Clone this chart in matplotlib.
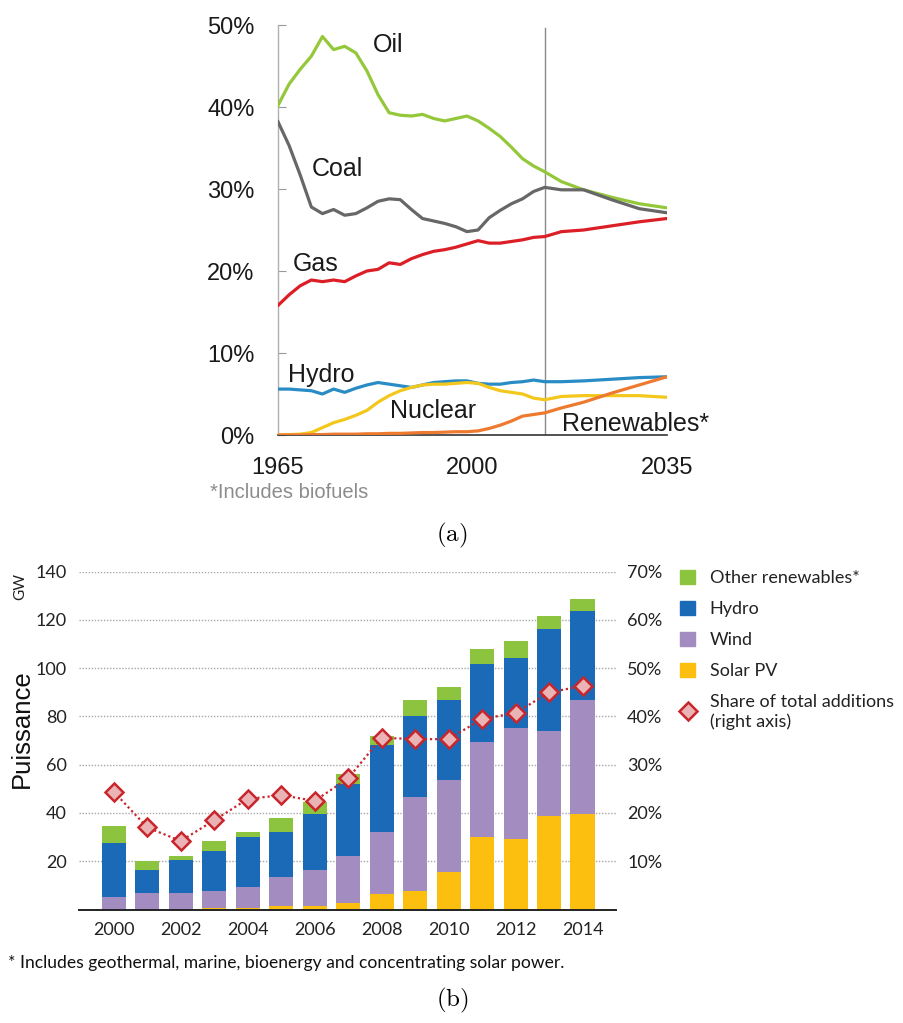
import matplotlib
matplotlib.use("Agg")
import matplotlib.pyplot as plt
import numpy as np
from matplotlib.patches import Patch
from matplotlib.lines import Line2D

plt.rcParams['font.family'] = ['Liberation Sans', 'DejaVu Sans']
plt.rcParams['mathtext.fontset'] = 'cm'

W, H = 904, 1023

# ---- (a) share of primary energy, %
YEARS = [1965, 1967, 1969, 1971, 1973, 1975, 1977, 1979, 1981, 1983, 1985, 1987,
         1989, 1991, 1993, 1995, 1997, 1999, 2001, 2003, 2005, 2007, 2009, 2011,
         2013, 2016, 2020, 2025, 2030, 2035]
OIL = [40.2, 42.8, 44.6, 46.2, 48.6, 47.0, 47.4, 46.6, 44.4, 41.5, 39.3, 39.0,
       38.9, 39.1, 38.6, 38.3, 38.6, 38.9, 38.3, 37.4, 36.4, 35.1, 33.7, 32.8,
       32.1, 30.9, 29.9, 29.0, 28.2, 27.7]
COAL = [38.2, 35.3, 31.7, 27.8, 27.0, 27.5, 26.8, 27.0, 27.7, 28.5, 28.8, 28.7,
        27.5, 26.4, 26.1, 25.8, 25.4, 24.8, 25.0, 26.5, 27.4, 28.2, 28.8, 29.7,
        30.2, 29.9, 29.9, 28.7, 27.6, 27.1]
GAS = [15.8, 17.1, 18.2, 18.9, 18.7, 18.9, 18.7, 19.4, 20.0, 20.2, 21.0, 20.8,
       21.5, 22.0, 22.4, 22.6, 22.9, 23.3, 23.7, 23.4, 23.4, 23.6, 23.8, 24.1,
       24.2, 24.8, 25.0, 25.5, 26.0, 26.4]
HYDRO_A = [5.6, 5.6, 5.5, 5.4, 5.0, 5.6, 5.2, 5.7, 6.1, 6.4, 6.2, 6.0,
           5.8, 6.1, 6.4, 6.5, 6.6, 6.6, 6.3, 6.2, 6.2, 6.4, 6.5, 6.7,
           6.5, 6.5, 6.6, 6.8, 7.0, 7.1]
NUCLEAR = [0.0, 0.05, 0.1, 0.3, 0.9, 1.5, 1.9, 2.4, 3.0, 4.0, 4.8, 5.4,
           5.8, 6.1, 6.2, 6.2, 6.3, 6.4, 6.3, 5.8, 5.4, 5.2, 5.0, 4.5,
           4.3, 4.7, 4.8, 4.8, 4.8, 4.6]
RENEWABLES = [0.0, 0.0, 0.0, 0.05, 0.05, 0.1, 0.1, 0.1, 0.15, 0.15, 0.2, 0.2,
              0.25, 0.3, 0.3, 0.35, 0.4, 0.4, 0.5, 0.8, 1.2, 1.7, 2.3, 2.5,
              2.7, 3.3, 4.0, 5.1, 6.1, 7.1]

# ---- (b) renewable capacity additions, GW
BAR_YEARS = list(range(2000, 2015))
SOLAR = [0.0, 0.0, 0.0, 0.5, 0.5, 1.6, 1.6, 2.6, 6.4, 7.8, 15.7, 30.2, 29.1, 38.7, 39.6]
WIND = [5.3, 7.0, 7.0, 7.3, 9.0, 11.7, 14.8, 19.6, 25.8, 38.9, 38.0, 39.3, 46.0, 35.4, 47.2]
HYDRO = [22.1, 9.4, 13.5, 16.4, 20.7, 18.9, 23.0, 29.8, 35.8, 33.6, 33.1, 32.2, 29.0, 42.1, 36.9]
OTHER = [7.3, 3.8, 1.7, 4.2, 2.0, 5.6, 5.0, 4.0, 3.9, 6.5, 5.5, 6.3, 7.2, 5.4, 5.0]
SHARE = [24.4, 17.0, 14.2, 18.5, 22.9, 23.7, 22.5, 27.2, 35.6, 35.3, 35.3, 39.5, 40.7, 45.0, 46.3]


def px_box(left, top, right, bottom):
    return [left / W, 1 - bottom / H, (right - left) / W, (bottom - top) / H]


fig = plt.figure(figsize=(W / 100, H / 100), dpi=100, facecolor='white')

# ===================== (a) =====================
ax1 = fig.add_axes(px_box(278, 25, 667, 435))
series = [
    (OIL, '#94c83a', 'Oil', 1984.8, 47.6),
    (COAL, '#676767', 'Coal', 1975.6, 32.4),
    (GAS, '#dc1f26', 'Gas', 1971.7, 20.9),
    (HYDRO_A, '#2a8cc4', 'Hydro', 1972.7, 7.3),
    (NUCLEAR, '#f3c71c', 'Nuclear', 1992.9, 2.9),
    (RENEWABLES, '#ee7a30', 'Renewables*', 2029.4, 1.3),
]
for vals, color, name, lx, ly in series:
    ax1.plot(YEARS, vals, color=color, lw=2.3, solid_joinstyle='round', zorder=3)
    ax1.text(lx, ly, name, fontsize=18, color='#1a1a1a', ha='center', va='center')

ax1.axvline(2013, ymin=0, ymax=49.6 / 50, color='#8a8a8a', lw=1.0, zorder=2)
ax1.set_xlim(1965, 2035)
ax1.set_ylim(0, 50)
ax1.set_xticks([1965, 2000, 2035])
ax1.set_yticks(range(0, 51, 10))
ax1.set_yticklabels([f'{v}%' for v in range(0, 51, 10)])
ax1.tick_params(axis='y', direction='in', length=6, color='#999999', pad=17,
                labelsize=17, labelcolor='#1a1a1a')
ax1.tick_params(axis='x', length=0, pad=16, labelsize=17, labelcolor='#1a1a1a')
for s in ['top', 'right']:
    ax1.spines[s].set_visible(False)
ax1.spines['left'].set_color('#b0b0b0')
ax1.spines['left'].set_linewidth(1.0)
ax1.spines['bottom'].set_color('#333333')
ax1.spines['bottom'].set_linewidth(1.2)

fig.text(210 / W, 1 - 492 / H, '*Includes biofuels', fontsize=14.5, color='#8c8c8c',
         va='center', ha='left')
fig.text(452 / W, 1 - 535 / H, r'$\mathrm{(a)}$', fontsize=18, ha='center', va='center')

# ===================== (b) =====================
BF = ['Lato', 'DejaVu Sans']
ax2 = fig.add_axes(px_box(79, 571.7, 616, 909.5))
colors = {'Other renewables*': '#8cc440', 'Hydro': '#1a6ab8',
          'Wind': '#a38dc0', 'Solar PV': '#fcbf10'}
bottom = np.zeros(len(BAR_YEARS))
for vals, name in [(SOLAR, 'Solar PV'), (WIND, 'Wind'), (HYDRO, 'Hydro'),
                   (OTHER, 'Other renewables*')]:
    ax2.bar(BAR_YEARS, vals, bottom=bottom, width=0.72, color=colors[name], zorder=2)
    bottom += np.array(vals)

ax2.set_xlim(1998.96, 2015.0)
ax2.set_ylim(0, 140)
ax2.set_yticks(range(20, 141, 20))
ax2.set_xticks(range(2000, 2015, 2))
ax2.yaxis.grid(True, linestyle=(0, (1, 1.2)), color='#a8a8a8', lw=1.0)
ax2.set_axisbelow(True)
ax2.tick_params(axis='y', length=0, pad=9, labelsize=13, labelcolor='#222222')
ax2.tick_params(axis='x', length=0, pad=9, labelsize=13, labelcolor='#222222')
for lbl in ax2.get_xticklabels() + ax2.get_yticklabels():
    lbl.set_family(BF)
for s in ['top', 'right', 'left']:
    ax2.spines[s].set_visible(False)
ax2.spines['bottom'].set_color('#222222')
ax2.spines['bottom'].set_linewidth(1.4)

ax3 = ax2.twinx()
ax3.plot(BAR_YEARS, SHARE, linestyle=(0, (1, 1.3)), color='#c8262c', lw=1.6,
         marker='D', markersize=9, markerfacecolor='#eab4b6',
         markeredgecolor='#c8262c', markeredgewidth=1.8, zorder=4)
ax3.set_ylim(0, 70)
ax3.set_yticks(range(10, 71, 10))
ax3.set_yticklabels([f'{v}%' for v in range(10, 71, 10)])
ax3.tick_params(axis='y', length=0, pad=8, labelsize=13, labelcolor='#222222')
for lbl in ax3.get_yticklabels():
    lbl.set_family(BF)
for s in ax3.spines.values():
    s.set_visible(False)

fig.text(22 / W, 1 - 729 / H, 'Puissance', rotation=90, fontsize=18.5,
         ha='center', va='center', color='#111111')
fig.text(20 / W, 1 - 587 / H, 'GW', rotation=90, fontsize=11, family=BF,
         ha='center', va='center', color='#222222')

handles = [Patch(color=colors[n]) for n in ['Other renewables*', 'Hydro', 'Wind', 'Solar PV']]
handles.append(Line2D([], [], linestyle='none', marker='D', markersize=9,
                      markerfacecolor='#eab4b6', markeredgecolor='#c8262c',
                      markeredgewidth=1.8))
labels = ['Other renewables*', 'Hydro', 'Wind', 'Solar PV',
          'Share of total additions\n(right axis)']
leg = fig.legend(handles, labels, loc='upper left', bbox_to_anchor=(680 / W, 1 - 570 / H),
                 frameon=False, borderpad=0, borderaxespad=0, handlelength=0.85,
                 handleheight=0.85, handletextpad=0.8, labelspacing=0.8,
                 prop={'family': BF, 'size': 13}, labelcolor='#222222')
for t in leg.get_texts():
    t.set_linespacing(1.25)

fig.text(8 / W, 1 - 963 / H,
         '* Includes geothermal, marine, bioenergy and concentrating solar power.',
         fontsize=12.6, family=BF, ha='left', va='center', color='#111111')
fig.text(452 / W, 1 - 1000 / H, r'$\mathrm{(b)}$', fontsize=18, ha='center', va='center')

fig.savefig('out.png', dpi=100, facecolor='white')
